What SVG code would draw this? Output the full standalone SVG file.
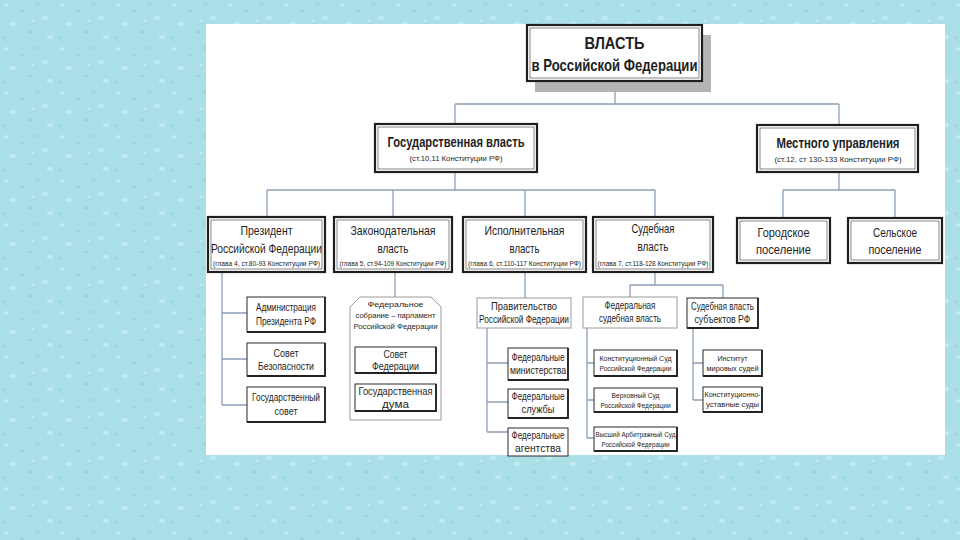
<svg xmlns="http://www.w3.org/2000/svg" width="960" height="540" viewBox="0 0 960 540">
<defs>
<pattern id="drops" width="56" height="44" patternUnits="userSpaceOnUse">
<rect width="56" height="44" fill="#abdfe8"/>
<ellipse cx="6" cy="5" rx="3" ry="2" fill="#bfe9f0"/>
<ellipse cx="22" cy="11" rx="2.5" ry="1.6" fill="#99d5e0"/>
<ellipse cx="13" cy="24" rx="4" ry="2.2" fill="#c0e9f0"/>
<ellipse cx="37" cy="4" rx="3" ry="1.8" fill="#9dd7e2"/>
<ellipse cx="45" cy="18" rx="3.5" ry="2.4" fill="#bde8ef"/>
<ellipse cx="30" cy="32" rx="2.2" ry="1.5" fill="#97d3df"/>
<ellipse cx="50" cy="37" rx="3" ry="2" fill="#c2eaf1"/>
<ellipse cx="4" cy="38" rx="2" ry="1.3" fill="#9ad5e0"/>
<ellipse cx="33" cy="21" rx="1.6" ry="1.1" fill="#c4ebf1"/>
</pattern>
<style>
.ln{stroke:#8aa0b8;stroke-width:1.3;fill:none}
.dbl{fill:#fff;stroke:#1e1e1e;stroke-width:2.2}
.inner{fill:none;stroke:#555;stroke-width:0.7}
.sub{fill:#fff;stroke:#2a2a2a;stroke-width:1}
.gray{fill:#fff;stroke:#9a9a9a;stroke-width:1}
.sh{stroke:#222;stroke-width:1.8;fill:none}
text{font-family:"Liberation Sans",Arial,sans-serif;fill:#1e1e1e;text-anchor:middle}
.h1{font-size:16.5px;font-weight:bold}
.h2{font-size:14px;font-weight:bold}
.ref{font-size:8px}
.t{font-size:13px}
.tref{font-size:6.5px}
.s{font-size:10.5px}
.xs{font-size:7.5px}
</style>
</defs>
<rect width="960" height="540" fill="url(#drops)"/>
<rect x="206" y="24" width="739" height="431" fill="#fff"/>

<g id="connectors">
<path class="ln" d="M615 81V104M455 104H839M455 104V124M839 104V125"/>
<path class="ln" d="M455 172V190M267 190H655M267 190V217M393 190V217M525 190V217M655 190V217"/>
<path class="ln" d="M839 172V190M783 190H895M783 190V218M895 190V218"/>
<path class="ln" d="M222 272V405M222 313H247M222 359H247M222 405H247"/>
<path class="ln" d="M395 272V297"/>
<path class="ln" d="M525 272V298M487 328V432M487 363H508M487 402H508M487 432H508"/>
<path class="ln" d="M655 272V285M630 285H723M630 285V297M723 285V298"/>
<path class="ln" d="M587 328V438M587 363H594M587 400H594M587 438H594"/>
<path class="ln" d="M693 328V400M693 363H703M693 400H703"/>
</g>

<g id="vlast">
<rect x="535" y="35" width="176" height="57" fill="#b4b4b4"/>
<rect class="dbl" x="527" y="25" width="175" height="56"/>
<rect class="inner" x="530" y="28" width="169" height="50"/>
<text class="h1" x="614.5" y="49" textLength="60" lengthAdjust="spacingAndGlyphs">ВЛАСТЬ</text>
<text class="h1" x="614.5" y="71" textLength="166" lengthAdjust="spacingAndGlyphs">в Российской Федерации</text>
</g>

<g id="gos">
<rect class="dbl" x="375" y="124" width="162" height="48"/>
<rect class="inner" x="378" y="127" width="156" height="42"/>
<text class="h2" x="456" y="147" textLength="137" lengthAdjust="spacingAndGlyphs">Государственная власть</text>
<text class="ref" x="456" y="161" textLength="93" lengthAdjust="spacingAndGlyphs">(ст.10,11 Конституции РФ)</text>
</g>

<g id="mestnoe">
<rect class="dbl" x="757" y="125" width="161" height="47"/>
<rect class="inner" x="760" y="128" width="155" height="41"/>
<text class="h2" x="838" y="148" textLength="123" lengthAdjust="spacingAndGlyphs">Местного управления</text>
<text class="ref" x="838" y="162" textLength="127" lengthAdjust="spacingAndGlyphs">(ст.12, ст 130-133 Конституции РФ)</text>
</g>

<g id="president">
<rect class="dbl" x="208" y="217" width="117" height="55"/>
<rect class="inner" x="211" y="220" width="111" height="49"/>
<text class="t" x="266.5" y="235" textLength="52" lengthAdjust="spacingAndGlyphs">Президент</text>
<text class="t" x="266.5" y="253" textLength="111" lengthAdjust="spacingAndGlyphs">Российской Федерации</text>
<text class="tref" x="266.5" y="266" textLength="107" lengthAdjust="spacingAndGlyphs">(глава 4, ст.80-93 Конституции РФ)</text>
</g>

<g id="zakon">
<rect class="dbl" x="334" y="217" width="118" height="55"/>
<rect class="inner" x="337" y="220" width="112" height="49"/>
<text class="t" x="393" y="235" textLength="85" lengthAdjust="spacingAndGlyphs">Законодательная</text>
<text class="t" x="393" y="253" textLength="31" lengthAdjust="spacingAndGlyphs">власть</text>
<text class="tref" x="393" y="266" textLength="107" lengthAdjust="spacingAndGlyphs">(глава 5, ст.94-109 Конституции РФ)</text>
</g>

<g id="ispoln">
<rect class="dbl" x="463" y="217" width="123" height="55"/>
<rect class="inner" x="466" y="220" width="117" height="49"/>
<text class="t" x="524.5" y="235" textLength="80" lengthAdjust="spacingAndGlyphs">Исполнительная</text>
<text class="t" x="524.5" y="253" textLength="30" lengthAdjust="spacingAndGlyphs">власть</text>
<text class="tref" x="524.5" y="266" textLength="113" lengthAdjust="spacingAndGlyphs">(глава 6, ст.110-117 Конституции РФ)</text>
</g>

<g id="sud">
<rect class="dbl" x="593" y="217" width="120" height="55"/>
<rect class="inner" x="596" y="220" width="114" height="49"/>
<text class="t" x="653" y="233" textLength="43" lengthAdjust="spacingAndGlyphs">Судебная</text>
<text class="t" x="653" y="251" textLength="31" lengthAdjust="spacingAndGlyphs">власть</text>
<text class="tref" x="653" y="266" textLength="111" lengthAdjust="spacingAndGlyphs">(глава 7, ст.118-128 Конституции РФ)</text>
</g>

<g id="gorod">
<rect class="dbl" x="737" y="218" width="93" height="45"/>
<rect class="inner" x="740" y="221" width="87" height="39"/>
<text class="t" x="783.5" y="237" textLength="52" lengthAdjust="spacingAndGlyphs">Городское</text>
<text class="t" x="783.5" y="254" textLength="55" lengthAdjust="spacingAndGlyphs">поселение</text>
</g>

<g id="selo">
<rect class="dbl" x="848" y="218" width="94" height="45"/>
<rect class="inner" x="851" y="221" width="88" height="39"/>
<text class="t" x="895" y="237" textLength="44" lengthAdjust="spacingAndGlyphs">Сельское</text>
<text class="t" x="895" y="254" textLength="53" lengthAdjust="spacingAndGlyphs">поселение</text>
</g>

<g id="admin">
<rect class="sub" x="247" y="297" width="78" height="35"/>
<path class="sh" d="M247 332H325V297"/>
<text class="s" x="286" y="311" textLength="60" lengthAdjust="spacingAndGlyphs">Администрация</text>
<text class="s" x="286" y="325" textLength="60" lengthAdjust="spacingAndGlyphs">Президента РФ</text>
</g>
<g id="sovbez">
<rect class="sub" x="247" y="343" width="78" height="33"/>
<path class="sh" d="M247 376H325V343"/>
<text class="s" x="286" y="357" textLength="25" lengthAdjust="spacingAndGlyphs">Совет</text>
<text class="s" x="286" y="370" textLength="56" lengthAdjust="spacingAndGlyphs">Безопасности</text>
</g>
<g id="gossovet">
<rect class="sub" x="247" y="387" width="78" height="35"/>
<path class="sh" d="M247 422H325V387"/>
<text class="s" x="286" y="401" textLength="68" lengthAdjust="spacingAndGlyphs">Государственный</text>
<text class="s" x="286" y="415" textLength="23" lengthAdjust="spacingAndGlyphs">совет</text>
</g>

<g id="fedsobr">
<polygon class="gray" points="360,297 431,297 441,307 441,420 350,420 350,307"/>
<text class="xs" x="395.5" y="307" textLength="56" lengthAdjust="spacingAndGlyphs">Федеральное</text>
<text class="xs" x="395.5" y="318" textLength="80" lengthAdjust="spacingAndGlyphs">собрание – парламент</text>
<text class="xs" x="395.5" y="329" textLength="84" lengthAdjust="spacingAndGlyphs">Российской Федерации</text>
<rect class="sub" x="355" y="347" width="81" height="26"/>
<path class="sh" d="M355 373H436V347"/>
<text class="s" x="395.5" y="358" textLength="24" lengthAdjust="spacingAndGlyphs">Совет</text>
<text class="s" x="395.5" y="370" textLength="47" lengthAdjust="spacingAndGlyphs">Федерации</text>
<rect class="sub" x="355" y="384" width="81" height="27"/>
<path class="sh" d="M355 411H436V384"/>
<text class="s" x="395.5" y="395" textLength="74" lengthAdjust="spacingAndGlyphs">Государственная</text>
<text class="s" x="395.5" y="408" textLength="27" lengthAdjust="spacingAndGlyphs">дума</text>
</g>

<g id="pravit">
<rect class="gray" x="477" y="298" width="94" height="30"/>
<text class="s" x="524" y="310" textLength="66" lengthAdjust="spacingAndGlyphs">Правительство</text>
<text class="s" x="524" y="323" textLength="90" lengthAdjust="spacingAndGlyphs">Российской Федерации</text>
</g>
<g id="ministry">
<rect class="sub" x="508" y="348" width="60" height="32"/>
<path class="sh" d="M508 380H568V348"/>
<text class="s" x="538" y="361" textLength="53" lengthAdjust="spacingAndGlyphs">Федеральные</text>
<text class="s" x="538" y="374" textLength="56" lengthAdjust="spacingAndGlyphs">министерства</text>
</g>
<g id="sluzhby">
<rect class="sub" x="508" y="389" width="60" height="29"/>
<path class="sh" d="M508 418H568V389"/>
<text class="s" x="538" y="400" textLength="53" lengthAdjust="spacingAndGlyphs">Федеральные</text>
<text class="s" x="538" y="413" textLength="33" lengthAdjust="spacingAndGlyphs">службы</text>
</g>
<g id="agentstva">
<rect class="sub" x="508" y="428" width="60" height="28"/>
<text class="s" x="538" y="439" textLength="53" lengthAdjust="spacingAndGlyphs">Федеральные</text>
<text class="s" x="538" y="452" textLength="46" lengthAdjust="spacingAndGlyphs">агентства</text>
</g>

<g id="fedsud">
<rect class="gray" x="583" y="297" width="94" height="31"/>
<text class="s" x="630" y="309" textLength="51" lengthAdjust="spacingAndGlyphs">Федеральная</text>
<text class="s" x="630" y="322" textLength="62" lengthAdjust="spacingAndGlyphs">судебная власть</text>
</g>
<g id="konstsud">
<rect class="sub" x="594" y="350" width="83" height="26"/>
<path class="sh" d="M594 376H677V350"/>
<text class="xs" x="635.5" y="361" textLength="72" lengthAdjust="spacingAndGlyphs">Конституционный Суд</text>
<text class="xs" x="635.5" y="371" textLength="72" lengthAdjust="spacingAndGlyphs">Российской Федерации</text>
</g>
<g id="verhsud">
<rect class="sub" x="594" y="388" width="83" height="24"/>
<path class="sh" d="M594 412H677V388"/>
<text class="xs" x="635.5" y="398" textLength="48" lengthAdjust="spacingAndGlyphs">Верховный Суд</text>
<text class="xs" x="635.5" y="408" textLength="70" lengthAdjust="spacingAndGlyphs">Российской Федерации</text>
</g>
<g id="arbsud">
<rect class="sub" x="594" y="427" width="83" height="24"/>
<path class="sh" d="M594 451H677V427"/>
<text class="xs" x="635.5" y="437" textLength="80" lengthAdjust="spacingAndGlyphs">Высший Арбитражный Суд</text>
<text class="xs" x="635.5" y="447" textLength="68" lengthAdjust="spacingAndGlyphs">Российской Федерации</text>
</g>

<g id="sudsubj">
<rect class="sub" x="687" y="298" width="71" height="30"/>
<path class="sh" d="M687 328H758V298"/>
<text class="s" x="722.5" y="310" textLength="63" lengthAdjust="spacingAndGlyphs">Судебная власть</text>
<text class="s" x="722.5" y="323" textLength="56" lengthAdjust="spacingAndGlyphs">субъектов РФ</text>
</g>
<g id="mirsud">
<rect class="sub" x="703" y="350" width="59" height="26"/>
<path class="sh" d="M703 376H762V350"/>
<text class="xs" x="732.5" y="361" textLength="30" lengthAdjust="spacingAndGlyphs">Институт</text>
<text class="xs" x="732.5" y="371" textLength="52" lengthAdjust="spacingAndGlyphs">мировых судей</text>
</g>
<g id="ustsud">
<rect class="sub" x="703" y="387" width="59" height="25"/>
<path class="sh" d="M703 412H762V387"/>
<text class="xs" x="732.5" y="397" textLength="56" lengthAdjust="spacingAndGlyphs">Конституционно-</text>
<text class="xs" x="732.5" y="407" textLength="53" lengthAdjust="spacingAndGlyphs">уставные суды</text>
</g>
</svg>
